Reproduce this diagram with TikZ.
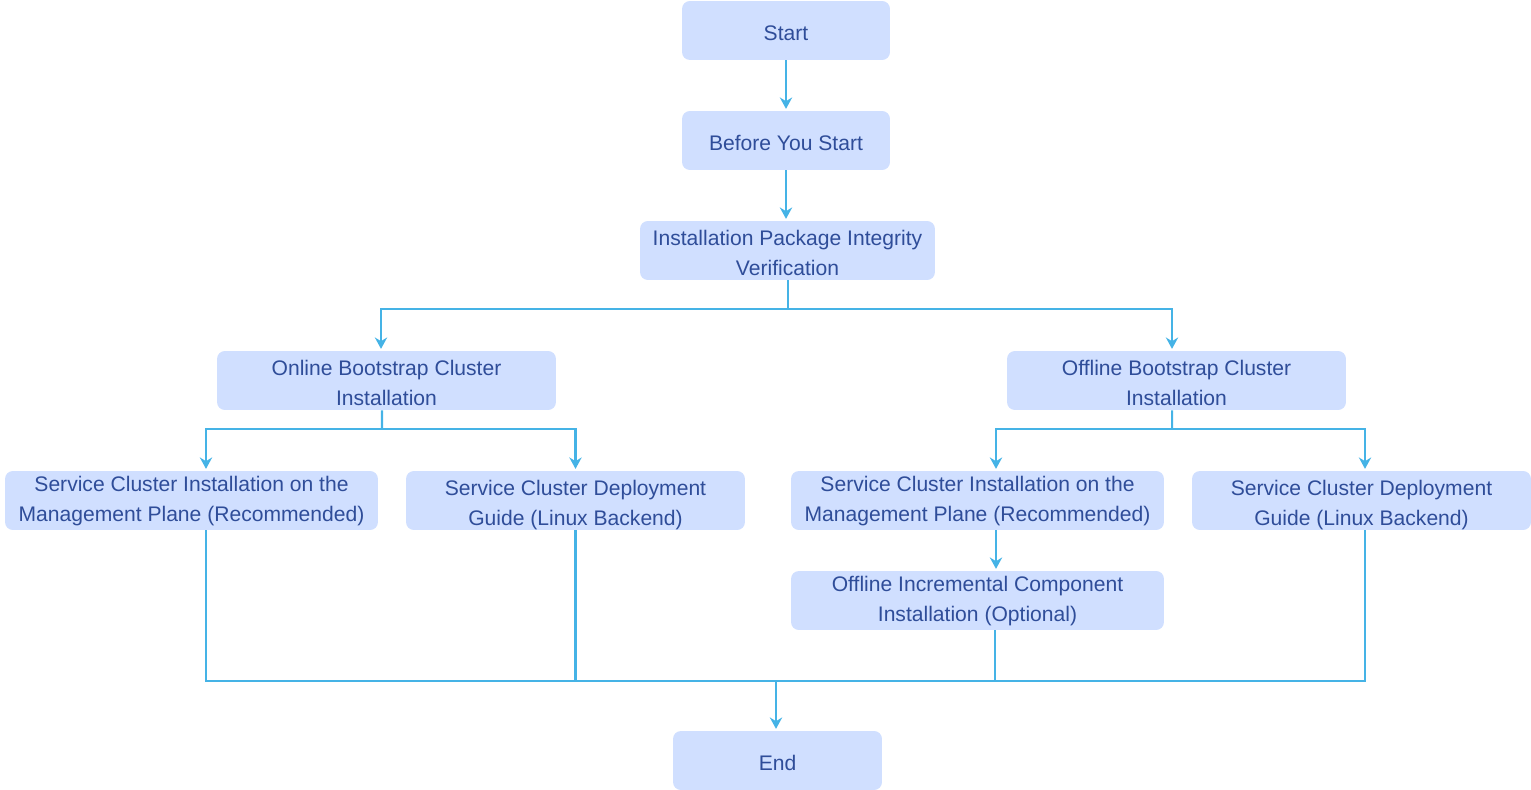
\documentclass[tikz,border=0pt]{standalone}
\usepackage{fontspec}
\setmainfont{Liberation Sans}
\usetikzlibrary{arrows.meta}
\definecolor{boxfill}{HTML}{D0DFFF}
\definecolor{boxtext}{HTML}{2F4D99}
\definecolor{flowline}{HTML}{45B3E6}
\begin{document}
\begin{tikzpicture}[x=0.02cm, y=-0.02cm,
  box/.style={fill=boxfill, text=boxtext, rounded corners=4.5pt, align=center, minimum height=1.18cm, inner sep=0pt, font=\fontsize{12}{17.1}\selectfont, text depth=0pt},
  box1/.style={box, text height=11.5pt},
  box2/.style={box, text height=#1}, box2/.default=28pt,
  link/.style={draw=flowline, line width=1.15pt},
  flow/.style={link, -{Stealth[length=6.5pt,width=7pt]}, shorten >=1pt}]
\useasboundingbox (0,0) rectangle (1531,790);
\node[box1,minimum width=4.16cm] (start) at (786,30.5) {Start};
\node[box1,minimum width=4.16cm] (before) at (786,140.5) {Before You Start};
\node[box2,minimum width=5.9cm] (verify) at (787.5,250.5) {Installation Package Integrity\\Verification};
\node[box2,minimum width=6.78cm] (online) at (386.5,380.5) {Online Bootstrap Cluster\\Installation};
\node[box2,minimum width=6.78cm] (offline) at (1176.5,380.5) {Offline Bootstrap Cluster\\Installation};
\node[box2=23.5pt,minimum width=7.46cm] (sc1) at (191.5,500.5) {Service Cluster Installation on the\\Management Plane (Recommended)};
\node[box2,minimum width=6.78cm] (sc2) at (575.5,500.5) {Service Cluster Deployment\\Guide (Linux Backend)};
\node[box2=23.5pt,minimum width=7.46cm] (sc3) at (977.5,500.5) {Service Cluster Installation on the\\Management Plane (Recommended)};
\node[box2,minimum width=6.78cm] (sc4) at (1361.5,500.5) {Service Cluster Deployment\\Guide (Linux Backend)};
\node[box2=23.5pt,minimum width=7.46cm] (incr) at (977.5,600.5) {Offline Incremental Component\\Installation (Optional)};
\node[box1,minimum width=4.18cm] (end) at (777.5,760.5) {End};
% junctions
\coordinate (j1) at (787.5,309);
\coordinate (j2) at (382,429);
\coordinate (j3) at (1172,429);
\coordinate (j4) at (776,681);
\draw[flow] (start) -- (before);
\draw[flow] (before.south) -- (before.south |- verify.north);
\draw[link] (verify.south) -- (j1);
\draw[flow] (j1) -| ([xshift=-0.11cm]online.north);
\draw[flow] (j1) -| ([xshift=-0.09cm]offline.north);
\draw[link] ([xshift=-0.09cm]online.south) -- (j2);
\draw[flow] (j2) -| ([xshift=0.29cm]sc1.north);
\draw[flow] (j2) -| (sc2.north);
\draw[link] ([xshift=-0.09cm]offline.south) -- (j3);
\draw[flow] (j3) -| ([xshift=0.37cm]sc3.north);
\draw[flow] (j3) -| ([xshift=0.07cm]sc4.north);
\draw[flow] ([xshift=0.37cm]sc3.south) -- ([xshift=0.37cm]incr.north);
% merge to end
\draw[link] ([xshift=0.29cm]sc1.south) |- ([xshift=0.07cm]sc4.south |- j4) -- ([xshift=0.07cm]sc4.south);
\draw[link] (sc2.south) -- (sc2.south |- j4);
\draw[link] ([xshift=0.35cm]incr.south) -- ([xshift=0.35cm]incr.south |- j4);
\draw[flow] (j4) -- (j4 |- end.north);
\end{tikzpicture}
\end{document}
